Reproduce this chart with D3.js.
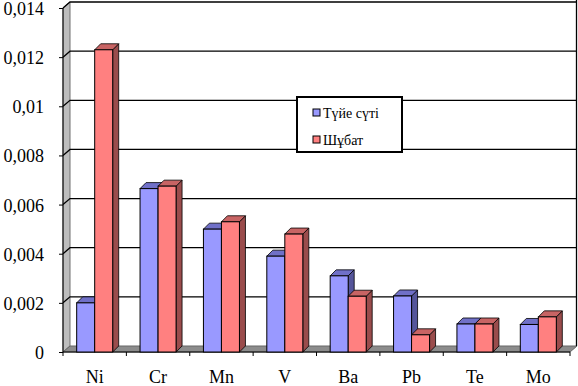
<!DOCTYPE html>
<html>
<head>
<meta charset="utf-8">
<script src="https://cdn.jsdelivr.net/npm/d3@7"></script>
<style>
  body { margin: 0; background: white; }
</style>
</head>
<body>
<div id="container"></div>
<script>
let w = 578;
let h = 386;
let serif = "'Liberation Serif', 'Times New Roman', serif";

// data
let categories = ["Ni", "Cr", "Mn", "V", "Ba", "Pb", "Te", "Mo"];
let seriesNames = ["Түйе сүті", "Шұбат"];
let camelMilk = [0.0020, 0.00665, 0.0050, 0.0039, 0.0031, 0.00228, 0.00114, 0.00112];
let shubat = [0.0123, 0.00675, 0.0053, 0.0048, 0.00227, 0.0007, 0.00114, 0.00143];
let yTicks = [0, 0.002, 0.004, 0.006, 0.008, 0.01, 0.012, 0.014];

let frontFill = ["#9999ff", "#ff8080"];
let topFill = ["#7070c8", "#c86464"];
let sideFill = ["#55559a", "#9a4c4c"];

let plotLeft = 63, plotRight = 570, plotBottom = 352, plotTop = 8;
let dx = 7, dy = -6;     // depth of the walls
let bdx = 6, bdy = -6;   // depth of the bars

let viz = d3.select("#container").append("svg")
    .attr("width", w)
    .attr("height", h)
    .style("background-color", "white")
;

let yScale = d3.scaleLinear().domain([0, 0.014]).range([plotBottom, plotTop]);
let xScale = d3.scaleBand().domain(categories).range([plotLeft, plotRight]);
let xInner = d3.scaleBand().domain(seriesNames).range([0, xScale.bandwidth()])
    .paddingInner(0).paddingOuter(0.76);

// walls
viz.append("polygon")
    .attr("points", [[plotLeft, plotBottom], [plotLeft, plotTop], [plotLeft+dx, plotTop+dy], [plotLeft+dx, plotBottom+dy]].join(" "))
    .attr("fill", "#bdbdbd")
    .attr("stroke", "#707070")
    .attr("stroke-width", 1)
;
viz.append("polygon")
    .attr("points", [[plotLeft, plotBottom], [plotRight, plotBottom], [plotRight+dx, plotBottom+dy], [plotLeft+dx, plotBottom+dy]].join(" "))
    .attr("fill", "#8c8c8c")
    .attr("stroke", "#666")
    .attr("stroke-width", 1)
;

// gridlines
let grid = viz.append("g").attr("class", "grid");
grid.selectAll("polyline").data(yTicks.slice(1)).enter()
  .append("polyline")
    .attr("points", d => [[plotLeft, yScale(d)], [plotLeft+dx, yScale(d)+dy], [plotRight+dx, yScale(d)+dy]].join(" "))
    .attr("fill", "none")
    .attr("stroke", "black")
    .attr("stroke-width", 1.3)
;
// right edge of the back wall
viz.append("line")
    .attr("x1", plotRight+dx-0.5).attr("x2", plotRight+dx-0.5)
    .attr("y1", 0).attr("y2", plotBottom+dy)
    .attr("stroke", "black").attr("stroke-width", 1.3)
;

// axes
let yAxis = d3.axisLeft(yScale).tickValues(yTicks).tickSize(4)
    .tickFormat(d => d === 0 ? "0" : String(+d.toFixed(3)).replace(".", ","));
let yAxisGroup = viz.append("g")
    .attr("class", "yaxisgroup")
    .attr("transform", "translate(" + plotLeft + ",0)")
;
yAxisGroup.call(yAxis);
yAxisGroup.select(".domain").attr("d", "M0," + plotBottom + "V" + plotTop).attr("stroke", "black");
yAxisGroup.selectAll("text")
    .attr("x", -19)
    .attr("dy", "0.36em")
    .attr("fill", "black")
    .style("font-family", serif)
    .style("font-size", "18px")
;

let xAxisGroup = viz.append("g")
    .attr("class", "xaxisgroup")
    .attr("transform", "translate(0," + plotBottom + ")")
;
xAxisGroup.append("line")
    .attr("x1", plotLeft).attr("x2", plotRight)
    .attr("stroke", "black")
;
xAxisGroup.selectAll(".tick").data(d3.range(categories.length + 1)).enter()
  .append("line")
    .attr("class", "tick")
    .attr("x1", i => plotLeft + i * xScale.step())
    .attr("x2", i => plotLeft + i * xScale.step())
    .attr("y1", 0).attr("y2", 4)
    .attr("stroke", "black")
;
xAxisGroup.selectAll(".catlabel").data(categories).enter()
  .append("text")
    .attr("class", "catlabel")
    .attr("x", d => xScale(d) + xScale.bandwidth() / 2)
    .attr("y", 31)
    .attr("text-anchor", "middle")
    .style("font-family", serif)
    .style("font-size", "18px")
    .text(d => d)
;

// bars
let data = categories.map((c, i) => ({
  cat: c,
  values: [camelMilk[i], shubat[i]]
}));

let graphGroup = viz.append("g").attr("class", "graphgroup");
let datagroups = graphGroup.selectAll(".datagroup").data(data).enter()
  .append("g")
    .attr("class", "datagroup")
    .attr("transform", d => "translate(" + xScale(d.cat) + ",0)")
;

seriesNames.forEach((s, si) => {
  datagroups.each(function(d) {
    let g = d3.select(this);
    let x0 = xInner(s);
    let x1 = x0 + xInner.bandwidth();
    let y0 = yScale(d.values[si]);
    let y1 = plotBottom;
    g.append("polygon")
        .attr("points", [[x1, y1], [x1, y0], [x1+bdx, y0+bdy], [x1+bdx, y1+bdy]].join(" "))
        .attr("fill", sideFill[si]).attr("stroke", "black").attr("stroke-width", 0.8)
    ;
    g.append("polygon")
        .attr("points", [[x0, y0], [x1, y0], [x1+bdx, y0+bdy], [x0+bdx, y0+bdy]].join(" "))
        .attr("fill", topFill[si]).attr("stroke", "black").attr("stroke-width", 0.8)
    ;
    g.append("rect")
        .attr("x", x0).attr("y", y0)
        .attr("width", x1 - x0).attr("height", y1 - y0)
        .attr("fill", frontFill[si]).attr("stroke", "black").attr("stroke-width", 1)
    ;
  });
});

// legend
let legend = viz.append("g").attr("class", "legend").attr("transform", "translate(297,97)");
legend.append("rect")
    .attr("width", 105).attr("height", 55)
    .attr("fill", "white").attr("stroke", "black").attr("stroke-width", 2)
;
let items = legend.selectAll(".item").data(seriesNames).enter()
  .append("g")
    .attr("class", "item")
    .attr("transform", (d, i) => "translate(16," + (16 + i * 27) + ")")
;
items.append("rect")
    .attr("x", 0).attr("y", -4)
    .attr("width", 7).attr("height", 7)
    .attr("fill", (d, i) => frontFill[i])
    .attr("stroke", "black").attr("stroke-width", 1)
;
items.append("text")
    .attr("x", 10).attr("y", 5)
    .style("font-family", serif)
    .style("font-size", "14px")
    .text(d => d)
;
</script>
</body>
</html>
